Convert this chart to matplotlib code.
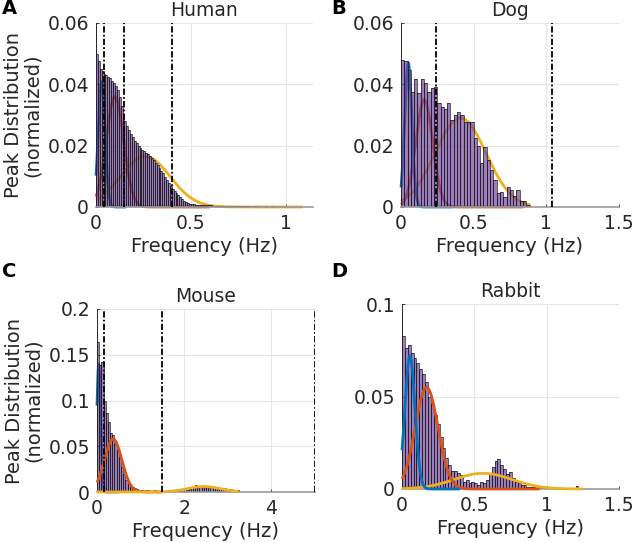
import numpy as np
import matplotlib
matplotlib.use("Agg")
import matplotlib.pyplot as plt

plt.rcParams['font.family'] = ['DejaVu Sans']

# ---------------- data ----------------
titles = ["Human", "Dog", "Mouse", "Rabbit"]
letters = ["A", "B", "C", "D"]

# Human: bin width 0.01 Hz
human_bw = 0.01
human_h = [0.050, 0.0475, 0.045, 0.0445, 0.0435, 0.043, 0.0425, 0.042, 0.041, 0.0405,
           0.0395, 0.038, 0.036, 0.033, 0.030, 0.028, 0.0265, 0.025, 0.0238, 0.0228,
           0.0216, 0.0208, 0.0200, 0.0193, 0.0187, 0.0182, 0.0177, 0.0172, 0.0166, 0.0160,
           0.0153, 0.0145, 0.0137, 0.0128, 0.0119, 0.0110, 0.0099, 0.0088, 0.0078, 0.0068,
           0.0060, 0.0052, 0.0045, 0.0038, 0.0031, 0.0025, 0.0020, 0.0016, 0.0013, 0.0011,
           0.0010, 0.0009, 0.0008, 0.0008, 0.0007, 0.0007, 0.0006, 0.0006, 0.0005, 0.0005,
           0.0005, 0.0004, 0.0004, 0.0004, 0.0003, 0.0004, 0.0003, 0.0003, 0.0003, 0.0003,
           0.0002, 0.0003, 0.0002, 0.0002, 0.0003, 0.0002, 0.0002, 0.0002, 0.0002, 0.0002,
           0.0002, 0.0002, 0.0001, 0.0002, 0.0002, 0.0001, 0.0002, 0.0001, 0.0001, 0.0002,
           0.0001, 0.0001, 0.0001, 0.0002, 0.0001, 0.0001, 0.0001, 0.0001, 0.0001, 0.0001,
           0.0001, 0.0001, 0.0001, 0.0001, 0.0001, 0.0001, 0.0001, 0.0001, 0.0001]

# Dog: bin width ~0.0227 Hz
dog_bw = 0.0227
dog_h = [0.048, 0.0475, 0.0447, 0.0376, 0.0416, 0.0373, 0.0416, 0.0403, 0.0376, 0.0387,
         0.039, 0.0338, 0.0327, 0.032, 0.0338, 0.0284, 0.030, 0.031, 0.030, 0.0278,
         0.0278, 0.0278, 0.0224, 0.020, 0.0142, 0.0197, 0.0153, 0.012, 0.0088, 0.0045,
         0.005, 0.0034, 0.0064, 0.0055, 0.0035, 0.0055, 0.0018, 0.0018, 0.0008]

# Mouse: bin width 0.05 Hz
mouse_bw = 0.05
mouse_h = [0.164, 0.139, 0.142, 0.100, 0.086, 0.077, 0.064, 0.062, 0.053, 0.046,
           0.038, 0.027, 0.020, 0.013, 0.009, 0.005, 0.005, 0.004, 0.003, 0.002,
           0.002, 0.001, 0.002, 0.002, 0.001, 0.001, 0.002, 0.001, 0.001, 0.001,
           0.0005, 0.0005, 0.0005, 0.0008, 0.0005, 0.0008, 0.001, 0.0008, 0.001, 0.0012,
           0.0015, 0.002, 0.003, 0.004, 0.006, 0.0075, 0.007, 0.0065, 0.007, 0.006,
           0.0065, 0.006, 0.0055, 0.005, 0.0045, 0.005, 0.004, 0.0035, 0.004, 0.003,
           0.0035, 0.003, 0.0025, 0.002, 0.002]

# Rabbit: bin width 0.02 Hz
rabbit_bw = 0.02
rabbit_h = [0.0825, 0.076, 0.078, 0.0735, 0.071, 0.068, 0.065, 0.062, 0.058, 0.050,
            0.046, 0.040, 0.035, 0.028, 0.022, 0.017, 0.013, 0.010, 0.0095, 0.0085,
            0.0075, 0.004, 0.005, 0.003, 0.004, 0.003, 0.002, 0.004, 0.003, 0.005,
            0.008, 0.012, 0.015, 0.016, 0.013, 0.011, 0.008, 0.009, 0.006, 0.004,
            0.003, 0.002, 0.002, 0.001, 0.001, 0.001, 0.0008, 0.0005, 0.0008, 0.0005,
            0.0005, 0.0003, 0.0005, 0.0003, 0.0003, 0.0003, 0.0002, 0.0002, 0.0002, 0.0002,
            0.0015, 0.0002]

# Gaussian fit components (amplitude, centre, sigma, x-range end) : blue, red, yellow
human_fit = dict(amp=[0.041, 0.036, 0.0165], mu=[0.03, 0.10, 0.26], sig=[0.018, 0.046, 0.13], xend=[0.16, 0.60, 1.09])
dog_fit = dict(amp=[0.047, 0.035, 0.029], mu=[0.05, 0.16, 0.41], sig=[0.025, 0.058, 0.175], xend=[0.36, 0.84, 0.89])
mouse_fit = dict(amp=[0.14, 0.058, 0.006], mu=[0.04, 0.37, 2.45], sig=[0.045, 0.2, 0.38], xend=[0.5, 1.5, 3.25])
rabbit_fit = dict(amp=[0.072, 0.055, 0.0085], mu=[0.055, 0.17, 0.56], sig=[0.035, 0.079, 0.2], xend=[0.4, 0.95, 1.25])

# Vertical dash-dot boundaries
human_vlines = [0.04, 0.15, 0.40]
dog_vlines = [0.243, 1.04]
mouse_vlines = [0.16, 1.49, 4.99]
rabbit_vlines = []

xlims = [(0, 1.145), (0, 1.5), (0, 5), (0, 1.5)]
ylims = [(0, 0.06), (0, 0.06), (0, 0.2), (0, 0.1)]
xticks = [[0, 0.5, 1], [0, 0.5, 1, 1.5], [0, 2, 4], [0, 0.5, 1, 1.5]]
xticklabels = [["0", "0.5", "1"], ["0", "0.5", "1", "1.5"], ["0", "2", "4"], ["0", "0.5", "1", "1.5"]]
yticks = [[0, 0.02, 0.04, 0.06], [0, 0.02, 0.04, 0.06], [0, 0.05, 0.1, 0.15, 0.2], [0, 0.05, 0.1]]
yticklabels = [["0", "0.02", "0.04", "0.06"], ["0", "0.02", "0.04", "0.06"],
               ["0", "0.05", "0.1", "0.15", "0.2"], ["0", "0.05", "0.1"]]

fit_colors = ["#0072BD", "#D95319", "#EDB120"]
bar_face = "#7040A0"

# ---------------- figure ----------------
W, H = 633, 543
fig = plt.figure(figsize=(W / 100, H / 100), dpi=100)

# axes boxes in pixels: left, right, top, bottom
boxes = [(96, 313, 23, 207), (401, 619, 23, 207), (97, 315, 309, 492), (402, 619, 304, 489)]
letter_pos = [(2, 14), (331, 14), (2, 277), (331, 277)]

hists = [(human_h, human_bw), (dog_h, dog_bw), (mouse_h, mouse_bw), (rabbit_h, rabbit_bw)]
fits = [human_fit, dog_fit, mouse_fit, rabbit_fit]
vlines_all = [human_vlines, dog_vlines, mouse_vlines, rabbit_vlines]
# zorder of each fit curve (blue, red, yellow); <2 means behind bars
curve_z = [[1, 1, 1], [1, 1, 1], [1, 3, 3.1], [3.2, 3.1, 3]]

for i in range(4):
    l, r, t, b = boxes[i]
    ax = fig.add_axes([l / W, 1 - b / H, (r - l) / W, (b - t) / H])
    heights, bw = hists[i]
    n = len(heights)
    lefts = np.arange(n) * bw
    ax.bar(lefts, heights, width=bw, align='edge', color=bar_face, alpha=0.68,
           edgecolor='none', zorder=2)
    ax.bar(lefts, heights, width=bw, align='edge', facecolor='none',
           edgecolor='#1a1a1a', linewidth=0.5, zorder=2.1)

    f = fits[i]
    order = [2, 1, 0]
    for k in order:
        xs = np.linspace(0, f['xend'][k], 400)
        ys = f['amp'][k] * np.exp(-(xs - f['mu'][k]) ** 2 / (2 * f['sig'][k] ** 2))
        ax.plot(xs, ys, color=fit_colors[k], lw=2.0, zorder=curve_z[i][k], clip_on=False,
                solid_capstyle='butt')

    for v in vlines_all[i]:
        ax.axvline(v, color='black', lw=1.3, linestyle=(0, (3.5, 1.2, 1, 1.2)), zorder=4)

    ax.set_xlim(*xlims[i])
    ax.set_ylim(*ylims[i])
    ax.set_xticks(xticks[i])
    ax.set_xticklabels(xticklabels[i])
    ax.set_yticks(yticks[i])
    ax.set_yticklabels(yticklabels[i])
    ax.grid(True, color='#e6e6e6', lw=0.8, zorder=0)
    ax.set_axisbelow(True)
    for s in ['top', 'right']:
        ax.spines[s].set_visible(False)
    ax.spines['left'].set_color('#262626')
    ax.spines['left'].set_linewidth(0.7)
    ax.spines['bottom'].set_color('#9a9a9a')
    ax.spines['bottom'].set_linewidth(1.2)
    ax.tick_params(axis='both', direction='in', length=2, width=0.6, colors='#262626',
                   labelsize=13.5, pad=5)
    ax.set_title(titles[i], fontsize=13.5, pad=5, color='#262626')
    ax.set_xlabel("Frequency (Hz)", fontsize=14, labelpad=3, color='#262626')
    if i in (0, 2):
        ax.set_ylabel("Peak Distribution\n(normalized)", fontsize=14, labelpad=4,
                      color='#262626', linespacing=1.0)
    lx, ly = letter_pos[i]
    fig.text(lx / W, 1 - ly / H, letters[i], fontsize=14, fontweight='bold',
             ha='left', va='baseline', color='black')

fig.savefig("out.png", dpi=100)
